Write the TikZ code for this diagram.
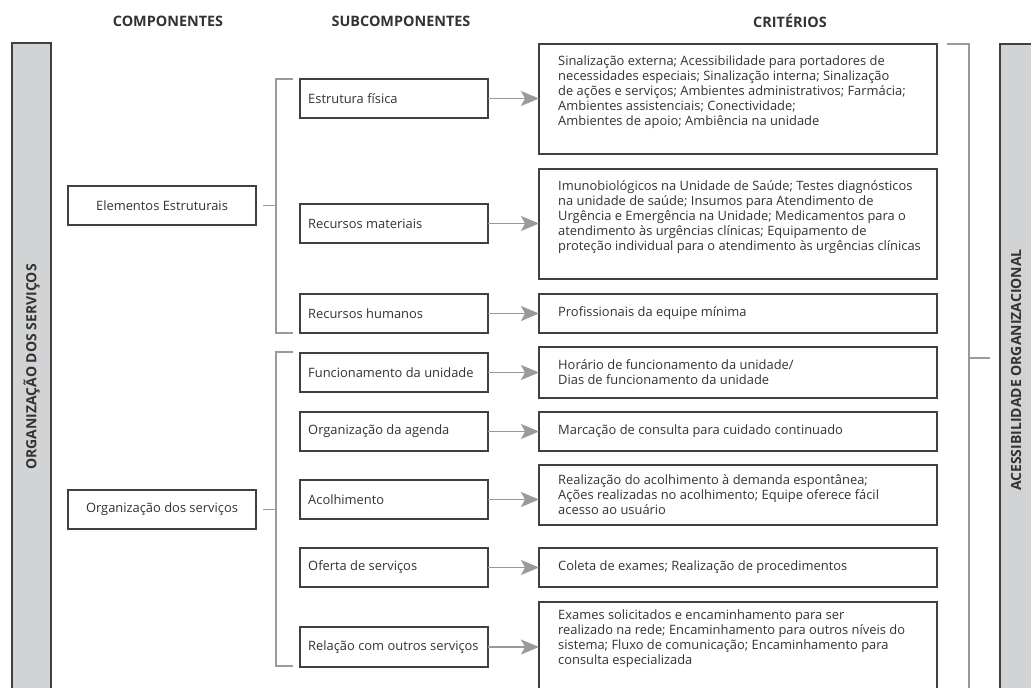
\documentclass[tikz,border=0pt]{standalone}
\usepackage{fontspec}
\setmainfont{Open Sans}
\usetikzlibrary{arrows.meta,calc}
\definecolor{txt}{HTML}{333333}
\definecolor{bord}{HTML}{404040}
\definecolor{ln}{HTML}{9A9A9A}
\definecolor{barfill}{HTML}{D2D3D5}
\begin{document}
\begin{tikzpicture}[x=1pt,y=-1pt,
 font=\fontsize{12.9}{15}\selectfont, text=txt,
 bx/.style={draw=bord, line width=1.2pt, fill=white, inner sep=0pt, outer sep=0pt, anchor=north west},
 bar/.style={draw=bord, line width=1.2pt, fill=barfill},
 brk/.style={draw=ln, line width=1.3pt},
 arr/.style={draw=ln, line width=1.3pt, -{Stealth[length=18pt,width=15pt,inset=4pt]}},
 ctxt/.style={inner sep=0pt, align=left, anchor=west},
 ttxt/.style={inner sep=0pt, align=left, anchor=north west},
 hdr/.style={font=\fontsize{14.4}{16}\selectfont\bfseries},
 bartxt/.style={font=\fontsize{14}{15}\selectfont\bfseries, rotate=90},
]
\useasboundingbox (0,0) rectangle (1031,688);
\clip (0,0) rectangle (1031,688);

% headers
\node[hdr] (h1) at (168,21) {COMPONENTES};
\node[hdr] (h2) at (401,21) {SUBCOMPONENTES};
\node[hdr] (h3) at (790,21) {CRITÉRIOS};

% side bars
\draw[bar] (12,43) rectangle (51,700);
\draw[bar] (1000,44) rectangle (1045,700);
\node[bartxt] (lb) at (31.5,367) {ORGANIZAÇÃO DOS SERVIÇOS};
\node[bartxt] (rb) at (1016,370) {ACESSIBILIDADE ORGANIZACIONAL};

% components
\node[bx, minimum width=188pt, minimum height=39pt, align=center] (e1) at (68,186) {Elementos Estruturais};
\node[bx, minimum width=188pt, minimum height=39pt, align=center] (e2) at (68,490) {Organização dos serviços};

% subcomponents
\node[bx, minimum width=188pt, minimum height=39pt] (s1) at (300,79) {};
\node[bx, minimum width=188pt, minimum height=39pt] (s2) at (300,204) {};
\node[bx, minimum width=188pt, minimum height=39pt] (s3) at (300,294) {};
\node[bx, minimum width=188pt, minimum height=39pt] (s4) at (300,353) {};
\node[bx, minimum width=188pt, minimum height=39pt] (s5) at (300,412) {};
\node[bx, minimum width=188pt, minimum height=39pt] (s6) at (300,480) {};
\node[bx, minimum width=188pt, minimum height=39pt] (s7) at (300,548) {};
\node[bx, minimum width=188pt, minimum height=40pt] (s8) at (300,627) {};
\node[ctxt] (t1) at ($(s1.west)+(8,0)$) {Estrutura física};
\node[ctxt] (t2) at ($(s2.west)+(8,0)$) {Recursos materiais};
\node[ctxt] (t3) at ($(s3.west)+(8,0)$) {Recursos humanos};
\node[ctxt] (t4) at ($(s4.west)+(8,0)$) {Funcionamento da unidade};
\node[ctxt] (t5) at ($(s5.west)+(8,0)$) {Organização da agenda};
\node[ctxt] (t6) at ($(s6.west)+(8,0)$) {Acolhimento};
\node[ctxt] (t7) at ($(s7.west)+(8,0)$) {Oferta de serviços};
\node[ctxt] (t8) at ($(s8.west)+(8,0)$) {Relação com outros serviços};

% criteria
\node[bx, minimum width=398pt, minimum height=110pt] (c1) at (539,44) {};
\node[bx, minimum width=398pt, minimum height=110pt] (c2) at (539,169) {};
\node[bx, minimum width=398pt, minimum height=39pt] (c3) at (539,294) {};
\node[bx, minimum width=398pt, minimum height=51pt] (c4) at (539,347) {};
\node[bx, minimum width=398pt, minimum height=39pt] (c5) at (539,412) {};
\node[bx, minimum width=398pt, minimum height=60pt] (c6) at (539,465) {};
\node[bx, minimum width=398pt, minimum height=39pt] (c7) at (539,548) {};
\node[bx, minimum width=398pt, minimum height=98pt] (c8) at (539,602) {};

\node[ttxt] (k1) at ($(c1.north west)+(19,11)$) {Sinalização externa; Acessibilidade para portadores de\\necessidades especiais; Sinalização interna; Sinalização\\de ações e serviços; Ambientes administrativos; Farmácia;\\Ambientes assistenciais; Conectividade;\\Ambientes de apoio; Ambiência na unidade};
\node[ttxt] (k2) at ($(c2.north west)+(19,11)$) {Imunobiológicos na Unidade de Saúde; Testes diagnósticos\\na unidade de saúde; Insumos para Atendimento de\\Urgência e Emergência na Unidade; Medicamentos para o\\atendimento às urgências clínicas; Equipamento de\\proteção individual para o atendimento às urgências clínicas};
\node[ctxt] (k3) at ($(c3.west)+(19,0)$) {Profissionais da equipe mínima};
\node[ctxt] (k4) at ($(c4.west)+(19,0)$) {Horário de funcionamento da unidade/\\Dias de funcionamento da unidade};
\node[ctxt] (k5) at ($(c5.west)+(19,0)$) {Marcação de consulta para cuidado continuado};
\node[ctxt] (k6) at ($(c6.west)+(19,0)$) {Realização do acolhimento à demanda espontânea;\\Ações realizadas no acolhimento; Equipe oferece fácil\\acesso ao usuário};
\node[ctxt] (k7) at ($(c7.west)+(19,0)$) {Coleta de exames; Realização de procedimentos};
\node[ttxt] (k8) at ($(c8.north west)+(19,7)$) {Exames solicitados e encaminhamento para ser\\realizado na rede; Encaminhamento para outros níveis do\\sistema; Fluxo de comunicação; Encaminhamento para\\consulta especializada};

% arrows
\foreach \i in {1,...,8}{
  \draw[arr] (s\i.east) -- (s\i.east -| c\i.west);
}

% brackets
\coordinate (b1t) at ($(s1.north west)+(-24,0)$);
\coordinate (b2t) at ($(s4.north west)+(-24,-1)$);
\draw[brk] ($(s1.north west)+(-7,0)$) -- (b1t) |- ($(s3.south west)+(-7,0)$);
\draw[brk] ($(e1.east)+(7,0)$) -- (e1.east -| b1t);
\draw[brk] ($(s4.north west)+(-7,-1)$) -- (b2t) |- ($(s8.south west)+(-7,-1)$);
\draw[brk] ($(e2.east)+(7,0)$) -- (e2.east -| b2t);

\coordinate (rt) at ($(c1.north east)+(32,0)$);
\coordinate (rb0) at ($(rt)+(0,660)$);
\coordinate (tk) at ($(rt)+(0,314)$);
\draw[brk] ($(c1.north east)+(10,0)$) -- (rt) -- (rb0);
\draw[brk] (tk) -- ++(21,0);
\end{tikzpicture}
\end{document}
